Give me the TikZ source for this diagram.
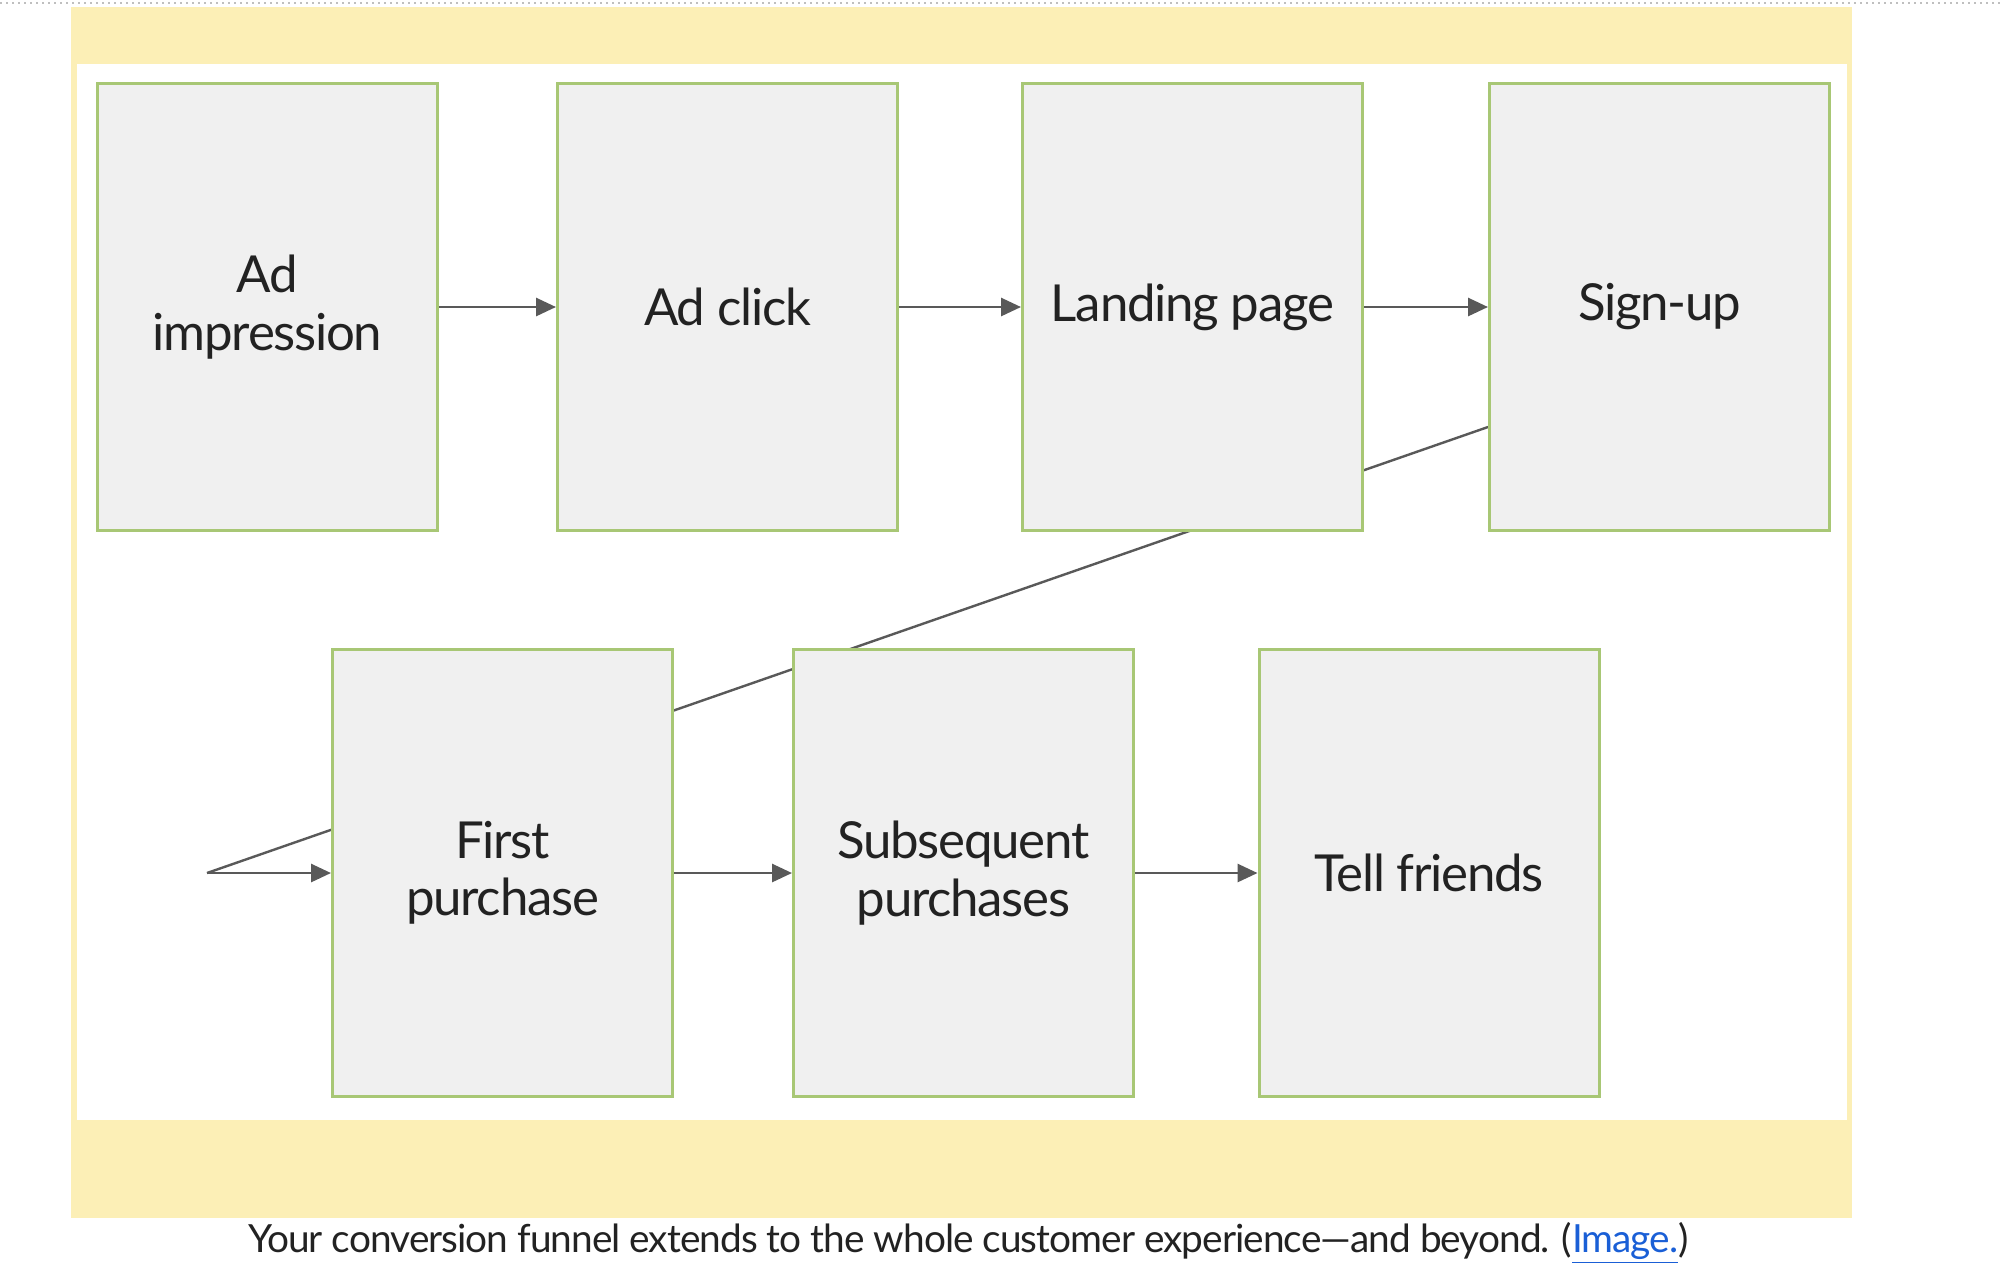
\documentclass[tikz,border=0pt]{standalone}
\usepackage{fontspec}
\setmainfont{Lato}[LetterSpace=-2.5]
\usepackage{tikz}
\usetikzlibrary{arrows.meta,positioning,backgrounds,calc}
\definecolor{bandyellow}{HTML}{FCEFB6}
\definecolor{stagefill}{HTML}{F0F0F0}
\definecolor{stagegreen}{HTML}{A8C775}
\definecolor{flowgray}{HTML}{595959}
\definecolor{inkgray}{HTML}{222222}
\definecolor{linkblue}{HTML}{1A5FD6}
\tikzset{
  stage/.style={draw=stagegreen, fill=stagefill, line width=1.5pt, minimum width=170pt, minimum height=223.5pt, inner sep=0pt, align=center, text=inkgray, font=\fontsize{25.5}{28.7}\selectfont},
  flow/.style={draw=flowgray, line width=1.4pt, -{Triangle[length=10pt,width=9pt]}},
  caption/.style={text=inkgray, inner sep=0pt, font=\fontsize{19.4}{23}\selectfont},
}

\begin{document}
\begin{tikzpicture}[x=0.5pt,y=-0.5pt]
    \useasboundingbox (0,0) rectangle (2000,1276);

    % Top row
    \node[stage] (adimp) at (267.5,307) {Ad\\impression};
    \node[stage] (adclick) at (727.5,307) {Ad click};
    \node[stage] (landing) at (1192.5,307) {Landing page};
    \node[stage] (signup) at (1659.5,307) {Sign-up};

    % Bottom row
    \node[stage] (firstbuy) at (502.5,873) {First\\purchase};
    \node[stage] (laterbuys) at (963.5,873) {Subsequent\\purchases};
    \node[stage] (tellfriends) at (1429,873) {Tell friends};
    \coordinate (back) at (207,873);

    % Caption
    \node[caption] (caption) at (968.5,1243) {Your conversion funnel extends to the whole customer experience—and beyond. (\textcolor{linkblue}{\underline{Image.}})};

    % Band, panel and return line behind the boxes
    \begin{scope}[on background layer]
        \draw[dotted, gray!50, line width=1pt] (0,3) -- (2000,3);
        \fill[bandyellow] (71,7) rectangle (1852,1218);
        \fill[white] (77,64) rectangle (1847,1120);
        \draw[flowgray, line width=1.2pt] ($(signup.west)+(0,120)$) -- (back);
    \end{scope}

    % Arrows
    \draw[flow] (adimp) -- (adclick);
    \draw[flow] (adclick) -- (landing);
    \draw[flow] (landing) -- (signup);
    \draw[flow] (back) -- (firstbuy);
    \draw[flow] (firstbuy) -- (laterbuys);
    \draw[flow] (laterbuys) -- (tellfriends);
\end{tikzpicture}
\end{document}
